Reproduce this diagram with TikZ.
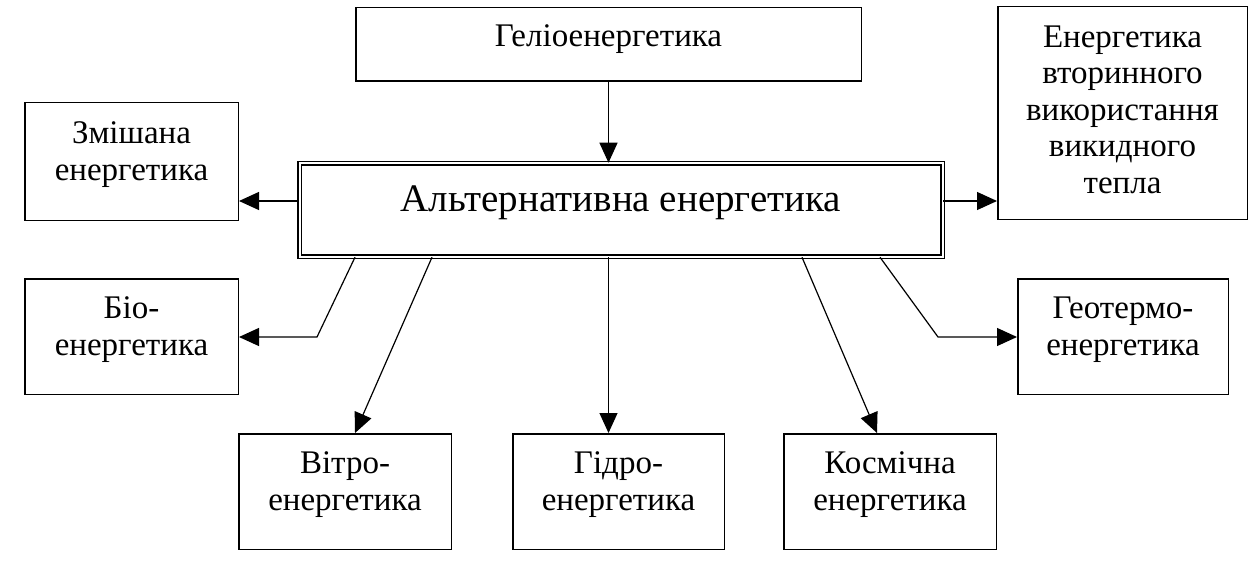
\documentclass[tikz,border=0pt]{standalone}
\usepackage{fontspec}
\setmainfont{Liberation Serif}
\usetikzlibrary{arrows.meta}
\newcommand{\boxlines}[2]{\raisebox{#1}[\height][\depth]{\begin{tabular}{@{}c@{}}#2\end{tabular}}}

\tikzset{
  box/.style={draw, rectangle, line width=1.5pt, inner sep=0pt, font=\fontsize{33pt}{36.5pt}\selectfont},
  mainbox/.style={draw, rectangle, double, double distance=2pt, line width=1.5pt, inner sep=0pt, font=\fontsize{39pt}{44pt}\selectfont},
  link/.style={line width=1.2pt, -{Triangle[length=20pt,width=18pt]}}
}

\begin{document}
\begin{tikzpicture}[x=1pt, y=-1pt]%
\useasboundingbox[fill=white] (0,0) rectangle (1260,564);%
\node[mainbox, minimum width=643, minimum height=93] (central) at (621, 210) {\boxlines{7pt}{Альтернативна енергетика}};%
\node[box, minimum width=505.5, minimum height=73.5] (helio) at (608.5, 44.5) {\boxlines{5pt}{Геліоенергетика}};%
\node[box, minimum width=249.5, minimum height=212.5] (reuse) at (1122.5, 113) {\boxlines{0pt}{Енергетика\\вторинного\\використання\\викидного\\тепла}};%
\node[box, minimum width=213.5, minimum height=117.5] (mixed) at (131.5, 161.5) {\boxlines{7pt}{Змішана\\енергетика}};%
\node[box, minimum width=213.5, minimum height=115.5] (bio) at (131.5, 336.5) {\boxlines{7pt}{Біо-\\енергетика}};%
\node[box, minimum width=212.5, minimum height=115.5] (wind) at (345, 491.5) {\boxlines{7pt}{Вітро-\\енергетика}};%
\node[box, minimum width=211.5, minimum height=115.5] (hydro) at (618.5, 491.5) {\boxlines{7pt}{Гідро-\\енергетика}};%
\node[box, minimum width=212.5, minimum height=115.5] (space) at (890, 491.5) {\boxlines{7pt}{Космічна\\енергетика}};%
\node[box, minimum width=210.5, minimum height=115.5] (geo) at (1123, 336.5) {\boxlines{7pt}{Геотермо-\\енергетика}};%
% connectors
\coordinate (sidey) at ([yshift=9pt]central.west);%
\coordinate (bioknee) at (317, 337);%
\coordinate (geoknee) at (938, 337);%
\draw[link] (helio.south) -- (helio.south |- central.north);%
\draw[link] (sidey) -- (sidey -| mixed.east);%
\draw[link] (sidey -| central.east) -- (sidey -| reuse.west);%
\draw[link] ([xshift=-266pt]central.south) -- (bioknee) -- (bioknee -| bio.east);%
\draw[link] ([xshift=-189pt]central.south) -- ([xshift=10pt]wind.north);%
\draw[link] (helio.south |- central.south) -- (helio.south |- hydro.north);%
\draw[link] ([xshift=181pt]central.south) -- ([xshift=-13pt]space.north);%
\draw[link] ([xshift=259pt]central.south) -- (geoknee) -- (geoknee -| geo.west);%
\end{tikzpicture}
\end{document}
